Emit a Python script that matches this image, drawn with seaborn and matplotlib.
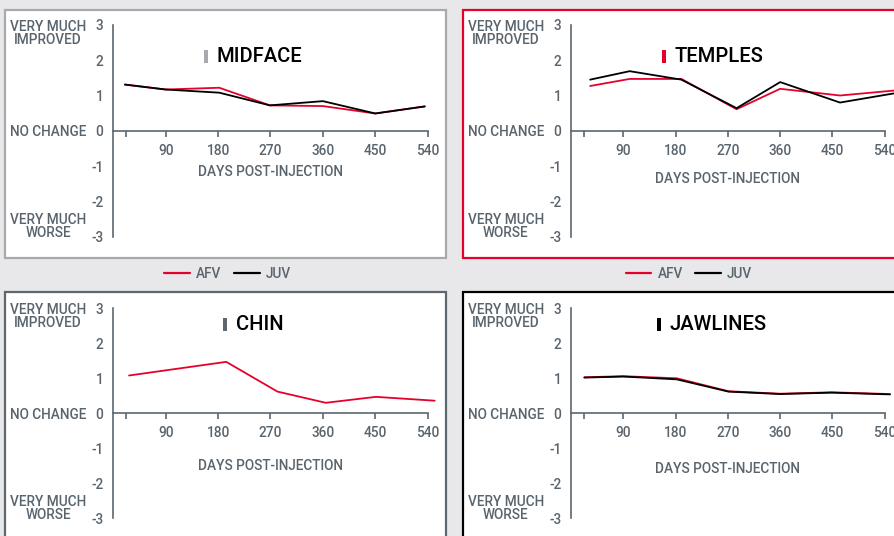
import matplotlib
matplotlib.use("Agg")
import matplotlib.pyplot as plt
from matplotlib.patches import Rectangle
from matplotlib.lines import Line2D
import seaborn as sns
import pandas as pd

sns.set_theme(style="white")
plt.rcParams["font.family"] = ["Roboto", "DejaVu Sans"]

# ---------------- data ----------------
midface_days = [20, 90, 182, 269, 360, 450, 535]
midface_afv = [1.31, 1.17, 1.22, 0.72, 0.70, 0.49, 0.69]
midface_juv = [1.31, 1.17, 1.08, 0.72, 0.84, 0.49, 0.69]

temples_days = [33, 101, 190, 285, 360, 463, 556]
temples_afv = [1.27, 1.47, 1.47, 0.61, 1.19, 1.00, 1.14]
temples_juv = [1.45, 1.69, 1.45, 0.64, 1.38, 0.80, 1.06]

chin_days = [27, 194, 282, 365, 451, 552]
chin_afv = [1.08, 1.47, 0.62, 0.30, 0.47, 0.36]

jaw_days = [23, 90, 182, 271, 360, 449, 549]
jaw_afv = [1.03, 1.06, 1.00, 0.63, 0.56, 0.60, 0.55]
jaw_juv = [1.02, 1.05, 0.97, 0.62, 0.55, 0.59, 0.54]

x_ticks = [22, 90, 180, 270, 360, 450, 540]
x_tick_labels = ["", "90", "180", "270", "360", "450", "540"]
y_ticks = [-3, -2, -1, 0, 1, 2, 3]
y_labels_top = "VERY MUCH\nIMPROVED"
y_label_mid = "NO CHANGE"
y_labels_bot = "VERY MUCH\nWORSE"
x_title = "DAYS POST-INJECTION"
series_names = ["AFV", "JUV"]

RED = "#e4022d"
BLACK = "#000000"
GREY = "#a7a9ac"
SLATE = "#5d6770"
TEXT = "#5a646d"
BG = "#e8e8ea"

palette = {"AFV": RED, "JUV": BLACK}

W, H = 894, 536
FS = 9.8
fig = plt.figure(figsize=(W / 100, H / 100), dpi=100, facecolor=BG)


def frame(x0, x1, y0, y1, color):
    fig.patches.append(Rectangle((x0 / W, 1 - y1 / H), (x1 - x0) / W, (y1 - y0) / H,
                                 transform=fig.transFigure, facecolor="white",
                                 edgecolor=color, linewidth=1.6, zorder=-10))


frame(5, 446, 10, 258, GREY)
frame(463, 905, 10, 258, RED)
frame(5, 446, 292, 550, SLATE)
frame(463, 905, 292, 550, BLACK)


def make_df(days, series):
    rows = []
    for name, vals in series:
        for d, v in zip(days, vals):
            rows.append({"day": d, "score": v, "series": name})
    return pd.DataFrame(rows)


panels = [
    dict(name="MIDFACE", color=GREY, day0=113.3, scale=0.5822, y3=25, ym3=236.5,
         df=make_df(midface_days, [("AFV", midface_afv), ("JUV", midface_juv)]),
         tx=178, ty=2.12, xl=-1.18),
    dict(name="TEMPLES", color=RED, day0=571, scale=0.581, y3=25, ym3=236.5,
         df=make_df(temples_days, [("AFV", temples_afv), ("JUV", temples_juv)]),
         tx=179, ty=2.12, xl=-1.37),
    dict(name="CHIN", color=SLATE, day0=113.3, scale=0.5822, y3=308.3, ym3=518.3,
         df=make_df(chin_days, [("AFV", chin_afv)]),
         tx=211, ty=2.55, xl=-1.52),
    dict(name="JAWLINES", color=BLACK, day0=571, scale=0.581, y3=308.3, ym3=518.3,
         df=make_df(jaw_days, [("AFV", jaw_afv), ("JUV", jaw_juv)]),
         tx=170, ty=2.55, xl=-1.6),
]

XMAX = 565
YPAD = 0.25
for p in panels:
    unit = (p["ym3"] - p["y3"]) / 6
    x0 = p["day0"]
    x1 = x0 + XMAX * p["scale"]
    ytop = p["y3"] - YPAD * unit
    ybot = p["ym3"] + YPAD * unit
    ax = fig.add_axes([x0 / W, 1 - ybot / H, (x1 - x0) / W, (ybot - ytop) / H])
    ax.set_zorder(5)
    ax.set_facecolor("none")
    order = [s for s in series_names if s in set(p["df"]["series"])]
    sns.lineplot(data=p["df"], x="day", y="score", hue="series", hue_order=order,
                 palette=palette, ax=ax, linewidth=1.3, legend=False,
                 estimator=None, sort=False)
    ax.set_xlim(0, XMAX)
    ax.set_ylim(-3 - YPAD, 3 + YPAD)
    ax.set_xlabel("")
    ax.set_ylabel("")
    for s in ["top", "right"]:
        ax.spines[s].set_visible(False)
    for s in ["left", "bottom"]:
        ax.spines[s].set_color(SLATE)
        ax.spines[s].set_linewidth(1.2)
    ax.spines["bottom"].set_position(("data", 0))
    ax.spines["bottom"].set_bounds(0, 540)
    ax.spines["left"].set_bounds(-3, 3)
    ax.set_xticks(x_ticks)
    ax.set_xticklabels(x_tick_labels, fontweight="medium")
    ax.set_yticks(y_ticks)
    ax.set_yticklabels([str(v) for v in y_ticks], fontweight="medium")
    ax.set_yticks([-3, 3], minor=True)
    ax.tick_params(axis="x", which="major", length=4.5, width=1.2, color=SLATE,
                   pad=5, labelsize=FS, labelcolor=TEXT, direction="out", bottom=True)
    ax.tick_params(axis="y", which="major", length=0, pad=7, labelsize=FS,
                   labelcolor=TEXT)
    ax.tick_params(axis="y", which="minor", length=4, width=1.2, color=SLATE,
                   direction="out", left=True)
    # category labels
    ax.annotate(y_labels_top, xy=(0, 3), xytext=(-19.5, 3.5), textcoords="offset points",
                ha="right", va="top", multialignment="center", fontsize=FS,
                fontweight="medium", color=TEXT, linespacing=0.88,
                annotation_clip=False)
    ax.annotate(y_label_mid, xy=(0, 0), xytext=(-19.5, -1), textcoords="offset points",
                ha="right", va="center", fontsize=FS, fontweight="medium", color=TEXT,
                annotation_clip=False)
    ax.annotate(y_labels_bot, xy=(0, -3), xytext=(-19.5, -2.5), textcoords="offset points",
                ha="right", va="bottom", multialignment="center", fontsize=FS,
                fontweight="medium", color=TEXT, linespacing=0.88,
                annotation_clip=False)
    ax.text(270, p["xl"], x_title, ha="center", va="center", fontsize=FS,
            fontweight="medium", color=TEXT)
    # panel title with coloured bar
    ax.text(p["tx"], p["ty"], p["name"], ha="left", va="center", fontsize=14.5,
            color="black", fontweight="medium")
    bar_w = 4 / p["scale"]
    bar_h = 13 / unit
    ax.add_patch(Rectangle((p["tx"] - 9 / p["scale"] - bar_w, p["ty"] - bar_h / 2),
                           bar_w, bar_h, facecolor=p["color"], edgecolor="none",
                           clip_on=False))

handles = [Line2D([], [], color=palette[s], linewidth=1.6) for s in series_names]
for cx in [227.5, 689]:
    fig.legend(handles, series_names, loc="center", bbox_to_anchor=(cx / W, 1 - 274 / H),
               ncol=2, frameon=False, prop={"size": FS, "weight": "medium"},
               labelcolor=TEXT, handlelength=1.9, handletextpad=0.45,
               columnspacing=0.9, borderaxespad=0, borderpad=0)

fig.savefig("out.png", dpi=100, facecolor=BG)
